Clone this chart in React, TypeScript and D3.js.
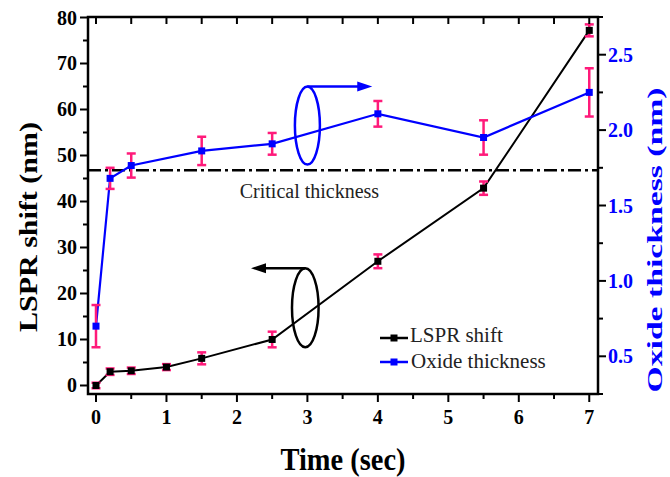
import * as d3 from "d3";

// time points (sec)
const lsprTime = [0, 0.2, 0.5, 1, 1.5, 2.5, 4, 5.5, 7];
const lsprShift = [0, 3.0, 3.2, 4.0, 5.9, 10.0, 27.0, 42.9, 77.2];
const lsprErr = [0.6, 0.7, 0.7, 0.65, 1.3, 1.7, 1.5, 1.45, 1.3];

const oxideTime = [0, 0.2, 0.5, 1.5, 2.5, 4, 5.5, 7];
const oxideThickness = [0.7, 1.68, 1.765, 1.862, 1.909, 2.108, 1.951, 2.25];
const oxideErr = [0.14, 0.07, 0.08, 0.094, 0.072, 0.085, 0.114, 0.16];

const xTicks = [0, 1, 2, 3, 4, 5, 6, 7];
const leftTicks = [0, 10, 20, 30, 40, 50, 60, 70, 80];
const rightTicks = [0.5, 1.0, 1.5, 2.0, 2.5];
const criticalLevel = 46.8; // on the LSPR axis

const font = "'Liberation Serif', 'Times New Roman', serif";
const blue = "#0000ff";
const pink = "#ff1a7a";

export default function App() {
  const width = 670;
  const height = 477;
  const left = 88, right = 598, top = 17, bottom = 394;

  const x = d3.scaleLinear().domain([-0.1135, 7.124]).range([left, right]);
  const yL = d3.scaleLinear().domain([-1.85, 80]).range([bottom, 17.5]);
  const yR = d3.scaleLinear().domain([0.25, 2.75]).range([bottom, top]);

  const lsprLine = d3.line<number>().x((_, i) => x(lsprTime[i])).y(d => yL(d));
  const oxideLine = d3.line<number>().x((_, i) => x(oxideTime[i])).y(d => yR(d));

  const xMinor = d3.range(0, 7.01, 0.5);
  const leftMinor = d3.range(0, 80.1, 5);
  const rightMinor = d3.range(0.25, 2.76, 0.25);

  // annotation anchors in data units
  const blueEll = { cx: x(3.0), cy: yR(2.03), rx: 12.5, ry: 39 };
  const blackEll = { cx: x(2.97), cy: yL(16.9), rx: 13.3, ry: 39.5 };
  const blueArrowEnd = x(3.92);
  const blackArrowEnd = x(2.2);

  const cap = 4.5;

  return (
    <svg width={width} height={height} style={{ position: "absolute", left: 0, top: 0 }}>
      <rect width={width} height={height} fill="#fff" />

      {/* critical thickness */}
      <line x1={left} x2={right} y1={yL(criticalLevel)} y2={yL(criticalLevel)}
        stroke="#000" strokeWidth={2.5} strokeDasharray="13 4 3 4" />
      <text x={x(2.04)} y={198} fontFamily={font} fontSize={20} fill="#222">Critical thickness</text>

      {/* lines */}
      <path d={lsprLine(lsprShift) ?? ""} fill="none" stroke="#000" strokeWidth={2} />
      <path d={oxideLine(oxideThickness) ?? ""} fill="none" stroke={blue} strokeWidth={2.2} />

      {/* error bars */}
      <g stroke={pink} strokeWidth={2.5}>
        {lsprShift.map((d, i) => {
          const cx = x(lsprTime[i]);
          const y1 = yL(d - lsprErr[i]);
          const y2 = yL(d + lsprErr[i]);
          return (
            <g key={"le" + i}>
              <line x1={cx} x2={cx} y1={y1} y2={y2} />
              <line x1={cx - cap} x2={cx + cap} y1={y1} y2={y1} />
              <line x1={cx - cap} x2={cx + cap} y1={y2} y2={y2} />
            </g>
          );
        })}
        {oxideThickness.map((d, i) => {
          const cx = x(oxideTime[i]);
          const y1 = yR(d - oxideErr[i]);
          const y2 = yR(d + oxideErr[i]);
          return (
            <g key={"oe" + i}>
              <line x1={cx} x2={cx} y1={y1} y2={y2} />
              <line x1={cx - cap} x2={cx + cap} y1={y1} y2={y1} />
              <line x1={cx - cap} x2={cx + cap} y1={y2} y2={y2} />
            </g>
          );
        })}
      </g>

      {/* markers */}
      {lsprShift.map((d, i) => (
        <rect key={"lm" + i} x={x(lsprTime[i]) - 3.5} y={yL(d) - 3.5} width={7} height={7} fill="#000" />
      ))}
      {oxideThickness.map((d, i) => (
        <rect key={"om" + i} x={x(oxideTime[i]) - 3.5} y={yR(d) - 3.5} width={7} height={7} fill={blue} />
      ))}

      {/* annotations */}
      <ellipse cx={blueEll.cx} cy={blueEll.cy} rx={blueEll.rx} ry={blueEll.ry} fill="none" stroke={blue} strokeWidth={2.5} />
      <line x1={blueEll.cx} x2={blueArrowEnd - 12} y1={blueEll.cy - blueEll.ry} y2={blueEll.cy - blueEll.ry} stroke={blue} strokeWidth={2.5} />
      <path d={`M${blueArrowEnd},${blueEll.cy - blueEll.ry} l-15,-5 l0,10 z`} fill={blue} />
      <ellipse cx={blackEll.cx} cy={blackEll.cy} rx={blackEll.rx} ry={blackEll.ry} fill="none" stroke="#000" strokeWidth={2.5} />
      <line x1={blackEll.cx} x2={blackArrowEnd + 12} y1={blackEll.cy - blackEll.ry} y2={blackEll.cy - blackEll.ry} stroke="#000" strokeWidth={2.5} />
      <path d={`M${blackArrowEnd},${blackEll.cy - blackEll.ry} l15,-5 l0,10 z`} fill="#000" />

      {/* frame */}
      <rect x={left} y={top} width={right - left} height={bottom - top} fill="none" stroke="#000" strokeWidth={2.5} />

      {/* bottom + top ticks */}
      <g stroke="#000" strokeWidth={2}>
        {xMinor.map(t => {
          const major = Number.isInteger(t);
          return (
            <g key={"xt" + t}>
              <line x1={x(t)} x2={x(t)} y1={bottom} y2={bottom + (major ? 8 : 5)} />
              <line x1={x(t)} x2={x(t)} y1={top} y2={top + 7} />
            </g>
          );
        })}
        {leftMinor.map(t => (
          <line key={"lt" + t} x1={left} x2={left - (t % 10 === 0 ? 8 : 5)} y1={yL(t)} y2={yL(t)} />
        ))}
        {rightMinor.map(t => {
          const major = Math.abs(t * 2 - Math.round(t * 2)) < 1e-6;
          return <line key={"rt" + t} x1={right} x2={right + (major ? 8 : 5)} y1={yR(t)} y2={yR(t)} />;
        })}
      </g>

      {/* tick labels */}
      <g fontFamily={font} fontWeight="bold" fontSize={20}>
        {xTicks.map(t => (
          <text key={"xl" + t} x={x(t)} y={424} textAnchor="middle">{t}</text>
        ))}
        {leftTicks.map(t => (
          <text key={"ll" + t} x={77} y={yL(t)} dy="0.35em" textAnchor="end">{t}</text>
        ))}
        {rightTicks.map(t => (
          <text key={"rl" + t} x={608} y={yR(t)} dy="0.35em" fill={blue}>{t.toFixed(1)}</text>
        ))}
      </g>

      {/* axis titles */}
      <text x={343} y={470} textAnchor="middle" fontFamily={font} fontWeight="bold" fontSize={31}
        textLength={125} lengthAdjust="spacingAndGlyphs">Time (sec)</text>
      <text transform="translate(37,227) rotate(-90)" textAnchor="middle" fontFamily={font} fontWeight="bold"
        fontSize={26} textLength={210} lengthAdjust="spacingAndGlyphs">LSPR shift (nm)</text>
      <text transform="translate(662,240) rotate(-90)" textAnchor="middle" fontFamily={font} fontWeight="bold"
        fontSize={22} fill={blue} textLength={305} lengthAdjust="spacingAndGlyphs">Oxide thickness (nm)</text>

      {/* legend */}
      <g fontFamily={font} fontSize={21}>
        <line x1={380} x2={408} y1={338} y2={338} stroke="#000" strokeWidth={2.5} />
        <rect x={390.5} y={334.5} width={7} height={7} fill="#000" />
        <text x={410} y={342} fill="#222">LSPR shift</text>
        <line x1={380} x2={408} y1={362} y2={362} stroke={blue} strokeWidth={2.5} />
        <rect x={390.5} y={358.5} width={7} height={7} fill={blue} />
        <text x={411} y={368} fill="#222">Oxide thickness</text>
      </g>
    </svg>
  );
}
